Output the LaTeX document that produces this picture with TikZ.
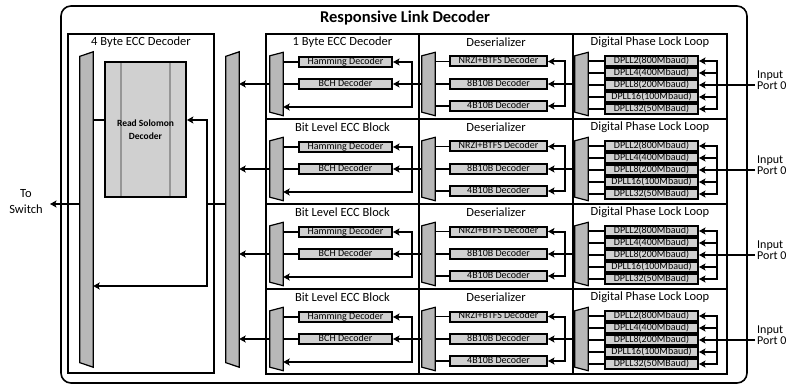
\documentclass[tikz,border=0pt]{standalone}
\usepackage{fontspec}
\setmainfont{Carlito}
\usetikzlibrary{arrows.meta}
\definecolor{boxgray}{RGB}{208,208,208}
\definecolor{muxgray}{RGB}{184,184,184}
\definecolor{bargray}{RGB}{150,150,150}
\newcommand{\muxshape}[2]{\filldraw[fill=muxgray,draw=black,line width=1.2pt] ([yshift=-#2]#1.north west) -- (#1.north east) -- (#1.south east) -- ([yshift=#2]#1.south west) -- cycle;}

\begin{document}
\begin{tikzpicture}[x=1pt,y=-1pt,
  frame/.style={draw=black,line width=1.6pt},
  ttl/.style={font=\fontsize{12.5}{13}\selectfont},
  dec/.style={draw=black,fill=boxgray,line width=2pt,minimum width=93pt,minimum height=10pt,
    text height=6.6pt,text depth=1.7pt,font=\fontsize{10}{10}\selectfont},
  muxnode/.style={minimum width=13pt,minimum height=63pt},
  wire/.style={line width=1.8pt},
  arr/.style={line width=2pt,-{Stealth[length=6.5pt,width=7pt,inset=1.5pt]}}]
\tikzstyle{every node}+=[inner sep=0pt]
\useasboundingbox (0,0) rectangle (791,387);
\draw [frame, rounded corners=10pt] (61,6) rectangle (747,383);
\node [font=\bfseries\fontsize{16.5}{18}\selectfont] (title) at (405,18) {Responsive Link Decoder};
% 4 byte ECC block
\draw [frame] (68,34) rectangle (214,373);
\node [ttl] (bytettl) at (141,42) {4 Byte ECC Decoder};
\node [muxnode, minimum height=315pt] (outmux) at (86.5,209.5) {};
\node [muxnode, minimum height=315pt] (selmux) at (232.5,209.5) {};
\muxshape{outmux}{4.5pt}
\muxshape{selmux}{4.5pt}
\node [draw=black, fill=boxgray, line width=1.8pt, minimum width=81pt, minimum height=135pt,
  align=center, font=\bfseries\fontsize{9.5}{13}\selectfont,
  path picture={\draw [bargray, line width=1.6pt] ([xshift=16pt]path picture bounding box.north west) -- ([xshift=16pt]path picture bounding box.south west);
    \draw [bargray, line width=1.6pt] ([xshift=-16pt]path picture bounding box.north east) -- ([xshift=-16pt]path picture bounding box.south east);}]
  (rs) at (145.5,129.5) {Read Solomon\\Decoder};
\coordinate (rsline) at (0,120);
\coordinate (back) at (0,286);
\coordinate (fork) at (207,204);
\coordinate (switch) at (50,204);
\draw [wire] (outmux.east |- rsline) -- (rs.west |- rsline);
\draw [wire] (selmux.west |- fork) -- (fork);
\draw [arr] (fork) |- (rs.east |- rsline);
\draw [arr] (fork) |- (outmux.east |- back);
\draw [arr] (outmux.west |- fork) -- (switch);
\node [ttl, align=center, font=\fontsize{12.5}{16}\selectfont] (switchlbl) at (26,202) {To\\Switch};
% the four lanes
\foreach \r/\ttl in {0/1 Byte ECC Decoder,1/Bit Level ECC Block,2/Bit Level ECC Block,3/Bit Level ECC Block}{
  \pgfmathsetmacro\T{34+85*\r}
  \draw [frame] (266,\T) rectangle (727,{\T+85});
  \draw [frame] (419,\T) -- (419,{\T+85});
  \draw [frame] (573,\T) -- (573,{\T+85});
  \node [ttl] (ecct\r) at (342.5,{\T+8}) {\ttl};
  \node [ttl] (dest\r) at (496,{\T+8}) {Deserializer};
  \node [ttl] (dpllt\r) at (650,{\T+8}) {Digital Phase Lock Loop};
  % ECC
  \node [muxnode] (eccmux\r) at (276.5,{\T+50}) {};
  \muxshape{eccmux\r}{3.5pt}
  \node [dec] (ham\r) at (345.5,{\T+28}) {Hamming Decoder};
  \node [dec] (bch\r) at (345.5,{\T+50}) {BCH Decoder};
  \coordinate (eccsplit\r) at (412,{\T+50});
  % deserializer
  \node [muxnode] (desmux\r) at (428.5,{\T+50}) {};
  \muxshape{desmux\r}{3.5pt}
  \node [dec, minimum width=97pt] (nrzi\r) at (498.5,{\T+27.5}) {NRZI+BTFS Decoder};
  \node [dec, minimum width=97pt] (eight\r) at (498.5,{\T+50}) {8B10B Decoder};
  \node [dec, minimum width=97pt] (four\r) at (498.5,{\T+72}) {4B10B Decoder};
  \coordinate (dessplit\r) at (565,{\T+50});
  % DPLL
  \node [muxnode] (dpllmux\r) at (581.5,{\T+50}) {};
  \muxshape{dpllmux\r}{3.5pt}
  \foreach \i/\lbl in {0/DPLL2(800Mbaud),1/DPLL4(400Mbaud),2/DPLL8(200Mbaud),3/DPLL16(100Mbaud),4/DPLL32(50MBaud)}
    \node [dec] (dpll\r-\i) at (651.5,{\T+27+12*\i}) {\lbl};
  \coordinate (dpllsplit\r) at (717,{\T+51});
  \coordinate (port\r) at (755,{\T+51});
  \node [ttl, anchor=west, align=left, font=\fontsize{12}{11}\selectfont] (portlbl\r) at (757,{\T+46}) {Input\\Port 0};
  % connections
  \draw [wire] (eccmux\r.east |- ham\r.west) -- (ham\r.west);
  \draw [wire] (eccmux\r.east) -- (bch\r.west);
  \draw [arr] (eccsplit\r) |- (ham\r.east);
  \draw [arr] (desmux\r.west) -- (bch\r.east);
  \draw [arr] (eccsplit\r) |- ([yshift=-23pt]eccmux\r.east);
  \draw [arr] (eccmux\r.west) -- (eccmux\r.west -| selmux.east);
  \draw [wire] (desmux\r.east |- nrzi\r.west) -- (nrzi\r.west);
  \draw [wire] (desmux\r.east) -- (eight\r.west);
  \draw [wire] (desmux\r.east |- four\r.west) -- (four\r.west);
  \draw [arr] (dessplit\r) |- (nrzi\r.east);
  \draw [arr] (dpllmux\r.west) -- (eight\r.east);
  \draw [arr] (dessplit\r) |- (four\r.east);
  \foreach \i in {0,...,4}{
    \draw [wire] (dpllmux\r.east |- dpll\r-\i.west) -- (dpll\r-\i.west);
    \draw [arr] (dpllsplit\r) |- (dpll\r-\i.east);
  }
  \draw [wire] (port\r) -- (dpllsplit\r);
}
\end{tikzpicture}
\end{document}
